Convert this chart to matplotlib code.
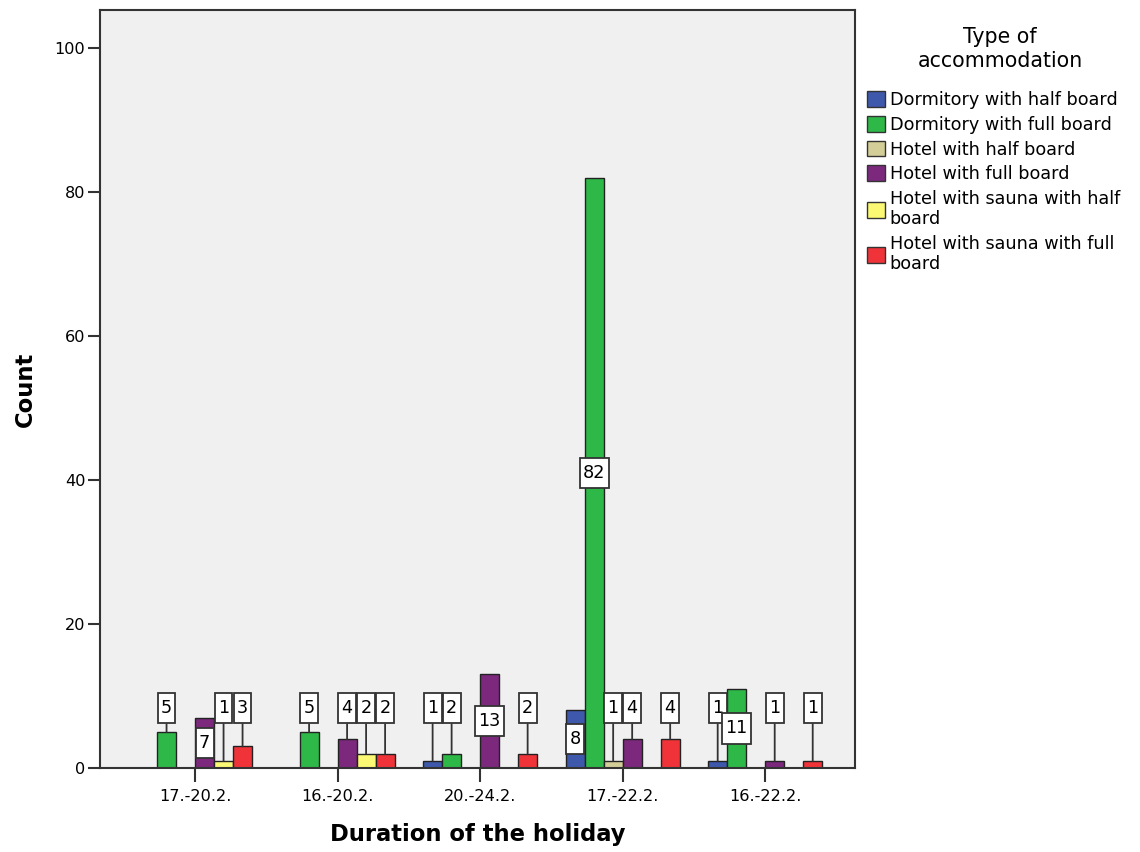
import numpy as np
import matplotlib.pyplot as plt
from matplotlib.patches import Patch
from matplotlib.path import Path

plt.rcParams['font.family'] = ['DejaVu Sans']

# datos
periods = ['17.-20.2.', '16.-20.2.', '20.-24.2.', '17.-22.2.', '16.-22.2.']
accommodation = ['Dormitory with half board', 'Dormitory with full board',
                 'Hotel with half board', 'Hotel with full board',
                 'Hotel with sauna with half\nboard', 'Hotel with sauna with full\nboard']
dorm_half = [0, 0, 1, 8, 1]
dorm_full = [5, 5, 2, 82, 11]
hotel_half = [0, 0, 0, 1, 0]
hotel_full = [7, 4, 13, 4, 1]
sauna_half = [1, 2, 0, 0, 0]
sauna_full = [3, 2, 2, 4, 1]
series = [dorm_half, dorm_full, hotel_half, hotel_full, sauna_half, sauna_full]
colors = ['#3E58AC', '#2EB848', '#D3CE97', '#7C287D', '#FBF873', '#EF3338']


# caja de etiqueta mas alta que ancha (estilo SPSS)
def tall_box(x0, y0, width, height, mutation_size):
    px = 0.19 * mutation_size
    py = 0.35 * mutation_size
    x0 -= px
    y0 -= py
    x1 = x0 + width + 2 * px
    y1 = y0 + height + 2 * py
    return Path([(x0, y0), (x1, y0), (x1, y1), (x0, y1), (x0, y0)], closed=True)


fig = plt.figure(figsize=(11.4, 8.52), dpi=100)
ax = fig.add_axes([0.0877, 0.0986, 0.6623, 0.8897])
ax.set_facecolor('#F0F0F0')

x = np.arange(len(periods))
width = 0.8 / len(series)

for i, (vals, col) in enumerate(zip(series, colors)):
    pos = x - 0.4 + width * (i + 0.5)
    for xp, v in zip(pos, vals):
        if v == 0:
            continue
        ax.bar(xp, v, width, color=col, edgecolor='#222222', linewidth=1.0, zorder=2)
        box = dict(boxstyle=tall_box, fc='white', ec='#333333', lw=1.3)
        if v >= 7:
            # etiqueta dentro de la barra
            ax.text(xp, v / 2, str(v), ha='center', va='center', fontsize=12.7,
                    bbox=box, zorder=4)
        else:
            ax.annotate(str(v), xy=(xp, v), xytext=(xp, 8.3), ha='center', va='center',
                        fontsize=12.7, bbox=box, zorder=4,
                        arrowprops=dict(arrowstyle='-', color='#333333', lw=1.3,
                                        shrinkA=0, shrinkB=0))

ax.set_xlim(-0.667, 4.63)
ax.set_ylim(0, 105.3)
ax.set_xticks(x)
ax.set_xticklabels(periods, fontsize=11.6)
ax.set_yticks([0, 20, 40, 60, 80, 100])
ax.tick_params(axis='y', labelsize=11.6, length=8.5, width=1.5, color='#333333', pad=2)
ax.tick_params(axis='x', length=10, width=1.5, color='#333333', pad=5)
for s in ax.spines.values():
    s.set_color('#333333')
    s.set_linewidth(1.5)

ax.set_ylabel('Count', fontsize=16.3, fontweight='bold', labelpad=13)
ax.set_xlabel('Duration of the holiday', fontsize=16.3, fontweight='bold', labelpad=14)

# titulo de la leyenda aparte, centrado
fig.text(1000 / 1140, 1 - 49 / 852, 'Type of\naccommodation', ha='center', va='center',
         fontsize=14.8, linespacing=1.25)

handles = [Patch(facecolor=c, edgecolor='#333333', linewidth=1.0) for c in colors]
leg = fig.legend(handles, accommodation, loc='upper left', bbox_to_anchor=(0.7605, 0.893),
                 frameon=False, fontsize=12.7, handlelength=1.0, handleheight=1.0,
                 handletextpad=0.28, labelspacing=0.38, borderpad=0.0,
                 borderaxespad=0.0)
for t in leg.get_texts():
    t.set_linespacing(1.15)

fig.savefig('out.png', dpi=100)
